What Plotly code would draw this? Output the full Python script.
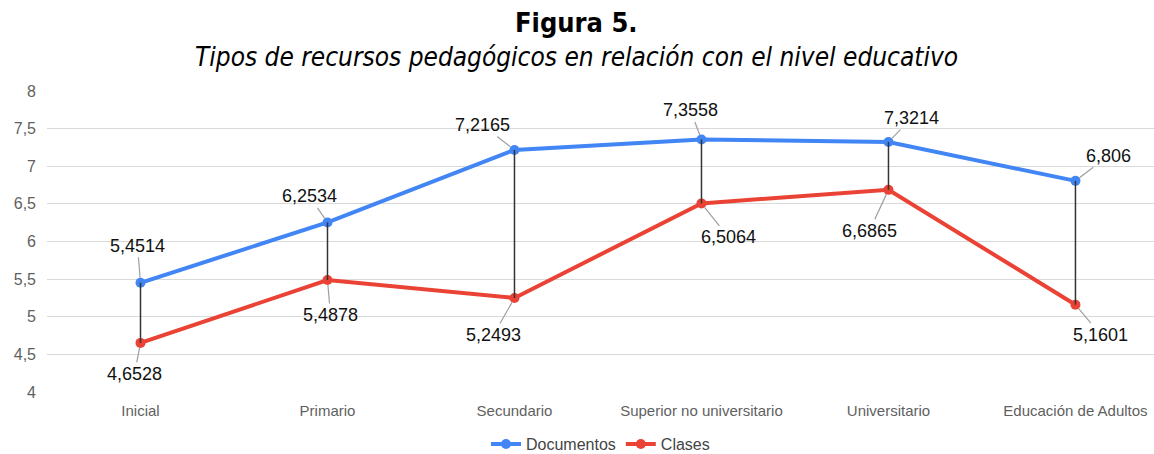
import plotly.graph_objects as go

categories = ["Inicial", "Primario", "Secundario", "Superior no universitario",
              "Universitario", "Educación de Adultos"]
documentos = [5.4514, 6.2534, 7.2165, 7.3558, 7.3214, 6.806]
clases = [4.6528, 5.4878, 5.2493, 6.5064, 6.6865, 5.1601]
doc_labels = ["5,4514", "6,2534", "7,2165", "7,3558", "7,3214", "6,806"]
cla_labels = ["4,6528", "5,4878", "5,2493", "6,5064", "6,6865", "5,1601"]
y_ticks = [4, 4.5, 5, 5.5, 6, 6.5, 7, 7.5, 8]
y_ticktext = ["4", "4,5", "5", "5,5", "6", "6,5", "7", "7,5", "8"]

# label offsets (pixels) for the data labels
doc_offsets = [(-3, -37), (-18, -26), (-32, -25), (-11, -29), (23, -24), (33, -25)]
cla_offsets = [(-6, 31), (3, 35), (-21, 37), (27, 34), (-19, 41), (25, 30)]

BLUE = "#4285F4"
RED = "#EA4335"

fig = go.Figure()

fig.add_trace(go.Scatter(
    x=categories, y=documentos, name="Documentos", mode="lines+markers",
    line=dict(color=BLUE, width=4), marker=dict(color=BLUE, size=10),
))
fig.add_trace(go.Scatter(
    x=categories, y=clases, name="Clases", mode="lines+markers",
    line=dict(color=RED, width=4), marker=dict(color=RED, size=10),
))

# high-low connector lines
hx, hy = [], []
for c, a, b in zip(categories, documentos, clases):
    hx += [c, c, None]
    hy += [a, b, None]
fig.add_trace(go.Scatter(
    x=hx, y=hy, mode="lines", showlegend=False, hoverinfo="skip",
    line=dict(color="#333333", width=1.5),
))

label_font = dict(family="Liberation Sans, Arial", size=18, color="#111111")
annotations = []
for vals, labels, offs in ((documentos, doc_labels, doc_offsets),
                           (clases, cla_labels, cla_offsets)):
    for c, v, t, (ax, ay) in zip(categories, vals, labels, offs):
        annotations.append(dict(x=c, y=v, xref="x", yref="y", text=t, showarrow=True,
                                ax=ax, ay=ay, arrowhead=0, arrowwidth=1.2,
                                arrowcolor="#9e9e9e", standoff=5, font=label_font))

annotations.append(dict(x=0.478, y=1.229, xref="paper", yref="paper", showarrow=False,
                        text="<b>Figura 5.</b>", xanchor="center", yanchor="middle",
                        font=dict(family="DejaVu Sans Condensed, DejaVu Sans", size=27, color="#000000")))
annotations.append(dict(x=0.478, y=1.113, xref="paper", yref="paper", showarrow=False,
                        text="<i>Tipos de recursos pedagógicos en relación con el nivel educativo</i>",
                        xanchor="center", yanchor="middle",
                        font=dict(family="DejaVu Sans Condensed, DejaVu Sans", size=26, color="#000000")))

fig.update_layout(
    width=1154, height=454,
    margin=dict(l=47, r=0, t=91, b=62, autoexpand=False),
    paper_bgcolor="white", plot_bgcolor="white",
    font=dict(family="Liberation Sans, Arial", size=15, color="#5f5f5f"),
    annotations=annotations,
    legend=dict(orientation="h", x=0.5, xanchor="center", y=-0.173, yanchor="middle",
                font=dict(size=16, color="#444444")),
    showlegend=True,
)
fig.update_xaxes(
    type="category", categoryorder="array", categoryarray=categories,
    range=[-0.5, 5.42], showgrid=False, showline=False, zeroline=False,
    automargin=False, ticklabelstandoff=8,
    tickfont=dict(size=15, color="#5f5f5f"),
)
fig.update_yaxes(
    range=[4, 8], tickvals=y_ticks, ticktext=y_ticktext, automargin=False,
    showgrid=True, gridcolor="#d9d9d9", gridwidth=1, zeroline=False, showline=False,
    tickfont=dict(size=16, color="#5f5f5f"), ticklabelstandoff=10,
)

fig.write_html("out.html", config={"displayModeBar": False},
               post_script="document.body.style.margin='0';document.body.style.overflow='hidden';")
